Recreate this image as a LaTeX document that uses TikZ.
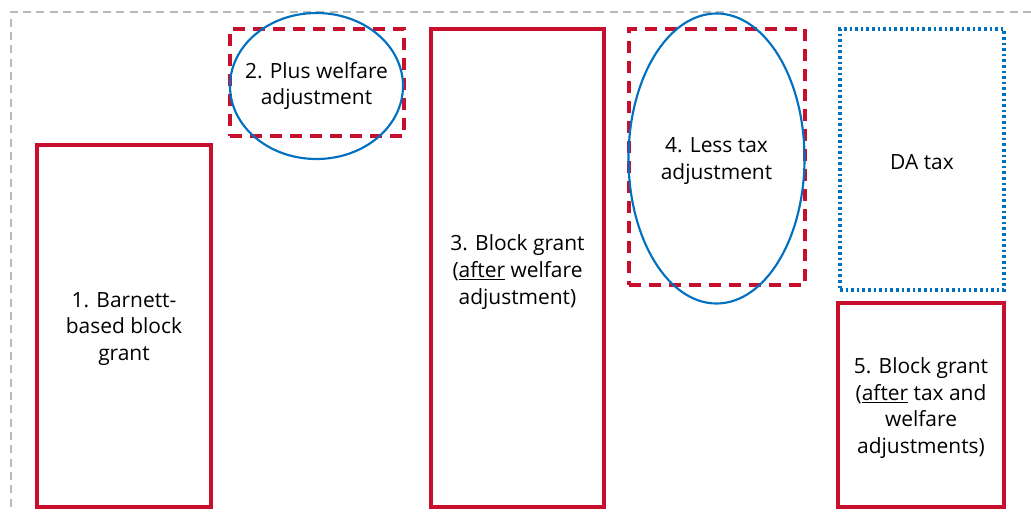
\documentclass[tikz,border=0pt]{standalone}
\usepackage{fontspec}
\setmainfont{Open Sans}
\usetikzlibrary{fit}
\definecolor{ifsred}{RGB}{200,16,46}
\definecolor{ifsblue}{RGB}{0,112,192}
\definecolor{bordergrey}{RGB}{185,185,185}
\tikzset{
  redbox/.style={draw=ifsred, line width=2.3pt, inner sep=0pt},
  reddash/.style={draw=ifsred, line width=2.4pt, dash pattern=on 9pt off 6pt, inner sep=0pt},
  bluedot/.style={draw=ifsblue, line width=2.4pt, dash pattern=on 2pt off 2.2pt, inner sep=0pt},
  blueoval/.style={draw=ifsblue, line width=1.6pt},
  lbl/.style={align=center, font=\fontsize{15.7}{20}\selectfont, inner sep=0pt},
  frame/.style={draw=bordergrey, line width=2pt, dash pattern=on 6pt off 4pt}
}
\begin{document}
\begin{tikzpicture}[x=0.75pt,y=-0.75pt]
\useasboundingbox (0,0) rectangle (1031,511);
\coordinate (ftl) at (11,12);
\coordinate (ftr) at (1040,12);
\coordinate (fbl) at (11,520);
\draw[frame] (fbl) -- (ftl) -- (ftr);
% box 1
\node[redbox, fit={(37,145)(211,507)}] (b1) {};
\node[lbl] (t1) at (124,329) {1. Barnett-\\based block\\grant};
% box 2
\node[reddash, fit={(230,29)(404,136)}] (b2) {};
\draw[blueoval] (316.5,86) ellipse [x radius=86.5, y radius=73];
\node[lbl] (t2) at (316.5,86) {2. Plus welfare\\adjustment};
% box 3
\node[redbox, fit={(431,29)(604,507)}] (b3) {};
\node[lbl] (t3) at (517.5,272) {3. Block grant\\(\underline{after} welfare\\adjustment)};
% box 4
\node[reddash, fit={(629,29)(805,285)}] (b4) {};
\draw[blueoval] (716.5,158.5) ellipse [x radius=88, y radius=145];
\node[lbl] (t4) at (716.5,161) {4. Less tax\\adjustment};
% DA tax
\node[bluedot, fit={(840,29)(1004,290)}] (da) {};
\node[lbl] (tda) at (922,162) {DA tax};
% box 5
\node[redbox, fit={(838,303)(1004,507)}] (b5) {};
\node[lbl] (t5) at (921,408) {5. Block grant\\(\underline{after} tax and\\welfare\\adjustments)};
\end{tikzpicture}
\end{document}
